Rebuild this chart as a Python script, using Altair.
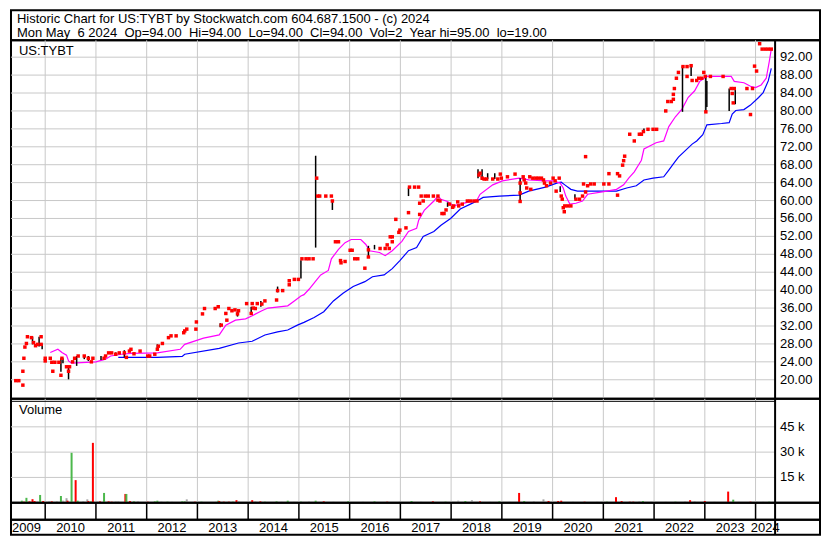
import altair as alt
import pandas as pd

FONT = "Liberation Sans"

# ---------------- data (decimal year, price) ----------------
close_year = [2009.42,2009.48,2009.56,2009.56,2009.58,2009.60,2009.63,2009.65,2009.73,2009.77,2009.81,2009.85,2009.92,2009.92,
 2010.00,2010.00,2010.10,2010.13,2010.15,2010.19,2010.27,2010.31,2010.33,2010.42,2010.48,2010.46,2010.54,2010.58,2010.65,2010.77,
 2010.85,2010.91,2010.94,2011.16,2011.19,2011.25,2011.31,2011.39,2011.46,2011.56,2011.60,2011.66,2011.69,2011.75,2011.87,
 2012.02,2012.06,2012.16,2012.21,2012.23,2012.31,2012.43,2012.48,2012.58,2012.73,2012.75,2012.79,2012.97,2012.98,
 2013.10,2013.14,2013.35,2013.41,2013.47,2013.56,2013.58,2013.62,2013.68,2013.74,2013.79,2013.81,2013.97,
 2014.06,2014.08,2014.10,2014.14,2014.18,2014.27,2014.33,2014.56,2014.58,2014.68,2014.81,2014.81,2014.91,2014.99,
 2015.06,2015.14,2015.20,2015.28,2015.35,2015.37,2015.41,2015.53,2015.64,2015.66,2015.72,2015.78,2015.82,2015.83,2015.91,
 2016.01,2016.05,2016.10,2016.16,2016.30,2016.37,2016.37,2016.60,2016.70,2016.74,2016.78,2016.80,2016.84,2016.84,2016.91,2016.97,2016.99,
 2017.11,2017.16,2017.18,2017.28,2017.36,2017.38,2017.38,2017.41,2017.45,2017.49,2017.55,2017.65,2017.74,2017.74,2017.78,2017.82,2017.86,2017.90,2017.97,
 2018.03,2018.05,2018.13,2018.15,2018.22,2018.32,2018.38,2018.45,2018.51,2018.55,2018.57,2018.61,2018.65,2018.70,2018.82,2018.92,2018.97,2018.99,
 2019.11,2019.26,2019.36,2019.36,2019.36,2019.42,2019.44,2019.47,2019.49,2019.55,2019.57,2019.61,2019.67,2019.72,2019.78,2019.82,2019.84,2019.88,2019.96,
 2020.01,2020.05,2020.07,2020.13,2020.17,2020.19,2020.21,2020.23,2020.24,2020.30,2020.36,2020.46,2020.53,2020.59,2020.61,2020.65,2020.65,2020.69,2020.75,2020.82,
 2021.01,2021.11,2021.11,2021.28,2021.28,2021.32,2021.38,2021.40,2021.42,2021.52,2021.61,2021.71,2021.75,2021.79,2021.88,2021.98,
 2022.05,2022.23,2022.27,2022.34,2022.38,2022.38,2022.40,2022.44,2022.48,2022.57,2022.65,2022.65,2022.73,2022.75,2022.84,2022.88,2022.94,2022.98,
 2023.01,2023.02,2023.11,2023.36,2023.52,2023.58,2023.54,2023.56,2023.83,2023.90,2023.94,2023.98,
 2024.02,2024.08,2024.13,2024.19,2024.25,2024.31]
close_price = [19.8,19.8,18.8,21.9,24.8,27.3,28.1,29.6,29.4,28.3,27.6,27.9,29.6,27.9,
 24.8,24.2,24.8,23.9,21.9,23.9,23.9,21.0,24.8,22.9,22.9,21.9,24.0,24.8,25.3,25.3,
 24.8,24.0,24.8,24.8,25.3,26.0,26.0,25.7,26.0,26.0,25.0,26.4,26.8,25.8,26.4,
 25.3,25.3,25.7,26.8,27.5,28.1,29.4,29.8,29.8,30.5,30.9,31.3,31.3,32.9,
 34.7,35.9,35.9,36.3,32.2,34.8,33.3,35.9,35.4,35.6,34.7,35.4,37.0,
 34.8,37.0,36.0,35.9,37.0,36.9,37.6,37.8,39.9,39.9,41.2,42.1,42.4,42.4,
 47.0,47.0,47.0,47.0,65.0,61.0,61.0,61.0,61.0,59.9,50.8,50.8,46.6,46.1,46.4,
 48.9,48.9,47.0,47.0,44.9,49.0,47.4,49.3,49.3,50.1,49.3,51.9,51.9,50.8,55.8,52.9,53.4,
 53.9,57.3,63.0,63.0,63.0,59.4,56.9,61.0,59.9,61.0,61.0,61.0,61.0,60.1,59.9,57.1,57.1,57.9,59.2,
 58.5,58.8,59.7,58.8,59.2,59.9,59.9,59.9,59.9,65.7,66.1,65.0,64.8,64.8,64.8,64.8,65.9,65.0,
 65.3,65.9,63.9,61.7,59.8,65.3,64.6,63.9,62.8,65.3,62.5,65.0,65.0,65.0,65.0,64.6,63.9,63.3,63.9,
 65.0,64.4,62.1,65.0,61.0,60.3,58.4,57.5,58.8,58.8,58.8,60.3,60.3,61.0,63.7,69.8,61.9,63.3,63.7,63.7,
 63.7,66.0,63.7,66.0,61.2,65.5,67.9,68.9,69.9,74.8,73.3,74.8,74.8,75.4,75.9,75.9,
 75.9,80.0,82.1,82.1,82.6,83.7,85.0,87.3,88.6,89.9,89.9,87.7,90.1,86.8,86.8,87.3,87.3,88.6,
 87.7,79.8,87.7,87.7,85.0,85.0,83.9,81.8,85.0,79.2,85.0,90.0,
 88.9,95.0,93.8,93.8,93.8,93.8]

# high-low bars
hl_year = [2009.75,2009.88,2009.94,2010.31,2010.35,2010.46,2010.62,2010.77,2010.85,2011.10,2011.39,2011.56,2012.21,
 2013.45,2013.79,2014.06,2014.25,2014.58,2015.04,2015.33,2015.66,2016.37,2016.49,2017.16,2017.93,
 2018.53,2018.61,2018.72,2018.86,2019.36,2020.15,2020.44,2021.80,2022.56,2022.73,2023.02,2023.04,2023.48,2023.60]
hl_high = [29.6,29.6,27.9,24.8,24.8,22.9,25.3,25.3,25.3,25.3,26.1,26.6,27.9,
 32.6,35.4,36.3,37.6,40.8,46.7,70.0,59.9,49.9,50.1,62.9,59.6,
 67.0,67.0,66.1,66.1,65.0,63.2,61.4,76.1,90.0,89.9,87.8,86.7,85.0,85.0]
hl_low = [27.9,27.4,26.8,21.8,23.7,20.1,23.1,24.6,24.2,24.4,25.3,25.0,26.6,
 31.7,34.1,34.6,36.3,39.5,42.6,49.5,57.9,47.3,49.1,61.0,58.6,
 65.0,64.6,64.8,64.8,59.6,61.9,60.3,75.2,79.8,87.8,79.8,80.9,80.0,81.5]

# fast moving average (magenta)
ma_fast_year = [2010.10,2010.25,2010.33,2010.42,2010.46,2010.52,2010.81,2011.00,2011.19,2011.29,2011.50,2011.69,2012.21,
 2012.66,2012.75,2013.12,2013.43,2013.56,2013.75,2013.95,2014.08,2014.27,2014.39,2014.78,2014.91,2015.04,2015.10,
 2015.20,2015.35,2015.43,2015.58,2015.64,2015.78,2015.91,2016.03,2016.22,2016.32,2016.39,2016.59,2016.70,2016.84,
 2017.03,2017.16,2017.32,2017.36,2017.47,2017.66,2017.74,2017.80,2017.93,2018.05,2018.18,2018.32,2018.51,2018.57,
 2018.82,2019.01,2019.34,2019.53,2019.86,2020.01,2020.15,2020.21,2020.26,2020.34,2020.46,2020.59,2020.69,2021.01,
 2021.26,2021.40,2021.50,2021.61,2021.75,2021.80,2022.04,2022.19,2022.29,2022.42,2022.55,2022.67,2022.80,2022.90,
 2023.04,2023.52,2023.58,2023.77,2023.90,2024.00,2024.11,2024.21,2024.27,2024.31]
ma_fast_price = [26.1,26.8,26.1,25.5,24.2,23.7,23.9,24.0,24.6,25.3,25.7,25.9,26.0,
 26.8,27.9,29.3,30.0,32.2,33.3,33.6,34.3,35.4,36.0,36.5,37.6,38.7,39.0,
 40.2,42.3,43.4,44.4,47.0,49.1,50.6,51.3,51.3,50.2,48.8,48.4,47.7,48.8,
 50.9,53.1,53.8,55.6,57.8,59.9,61.0,60.3,59.8,58.8,59.2,59.6,60.1,61.4,
 63.5,64.4,65.0,64.6,64.4,64.4,63.9,62.8,61.0,59.2,59.4,59.9,61.4,62.0,
 62.5,63.5,65.0,66.4,69.0,71.5,72.9,73.3,76.5,78.7,80.4,83.0,84.5,86.6,
 87.7,87.7,86.6,86.3,85.5,85.2,85.8,87.3,91.0,93.8]

# slow moving average (blue)
ma_slow_year = [2011.44,2011.79,2012.21,2012.70,2012.75,2013.43,2013.81,2014.08,2014.33,2014.58,2014.78,2014.97,2015.10,
 2015.30,2015.49,2015.68,2015.87,2016.07,2016.30,2016.45,2016.68,2016.84,2016.99,2017.16,2017.32,2017.45,2017.66,
 2017.80,2017.99,2018.18,2018.38,2018.51,2018.63,2018.95,2019.34,2019.53,2019.86,2020.11,2020.17,2020.24,2020.36,
 2020.49,2021.01,2021.26,2021.46,2021.65,2021.80,2021.98,2022.19,2022.29,2022.38,2022.48,2022.61,2022.75,2022.84,
 2022.96,2023.04,2023.33,2023.48,2023.54,2023.61,2023.77,2023.90,2024.06,2024.15,2024.25,2024.31]
ma_slow_price = [25.0,25.0,25.0,25.2,25.7,27.0,28.2,28.6,30.0,30.7,31.1,32.2,32.8,
 33.9,35.2,37.6,39.3,40.8,41.9,43.0,43.4,44.8,46.6,48.8,49.5,52.0,53.1,
 54.5,56.0,58.1,59.2,59.9,60.7,61.0,61.2,62.1,63.0,64.0,64.1,63.5,62.5,
 62.1,62.1,62.1,62.8,63.3,64.6,65.0,65.3,66.8,68.2,69.7,71.1,72.6,73.3,
 74.7,76.9,77.2,77.4,79.3,80.1,80.3,81.3,83.0,84.1,86.7,89.5]

# volume (thousands of shares) and bar colour class
vol_year = [2009.38,2009.42,2009.46,2009.54,2009.58,2009.63,2009.69,2009.75,2009.79,2009.85,2009.90,2009.96,
 2010.08,2010.13,2010.23,2010.31,2010.35,2010.42,2010.44,2010.52,2010.60,2010.64,2010.75,2010.83,2010.85,2010.90,2010.94,
 2011.02,2011.08,2011.16,2011.25,2011.31,2011.39,2011.44,2011.58,2011.60,2011.67,2011.75,2011.83,
 2012.02,2012.16,2012.21,2012.29,2012.41,2012.50,2012.70,2012.75,2012.79,2012.95,
 2013.08,2013.37,2013.41,2013.43,2013.52,2013.62,2013.70,2013.77,2013.81,
 2014.00,2014.08,2014.14,2014.24,2014.33,2014.56,2014.66,2014.78,2014.91,
 2015.04,2015.20,2015.33,2015.49,2015.68,2015.97,2016.26,2016.49,2016.74,2016.99,
 2017.22,2017.41,2017.64,2017.89,2018.14,2018.28,2018.41,2018.57,2018.76,2018.95,
 2019.15,2019.34,2019.44,2019.63,2019.82,2019.92,2020.11,2020.17,2020.40,2020.63,2020.88,
 2021.07,2021.25,2021.36,2021.52,2021.59,2021.71,2021.78,2021.94,2022.23,2022.42,2022.61,2022.71,2022.80,
 2023.00,2023.19,2023.46,2023.56,2023.67,2023.90,2024.02,2024.15,2024.27]
vol_k = [0.6,0.6,0.6,1.2,0.6,2.9,0.8,2.1,1.0,0.8,4.6,1.0,
 1.0,0.8,1.0,4.0,1.2,2.7,1.2,29.6,13.4,1.2,1.0,2.0,1.0,0.8,35.5,
 0.6,0.8,5.8,0.8,0.6,1.0,1.0,5.2,5.2,1.0,0.8,1.0,
 0.6,0.8,1.2,0.8,0.6,0.6,0.8,0.8,2.0,0.6,
 0.6,0.6,1.2,1.0,0.6,0.6,0.6,1.5,1.0,
 0.6,1.5,1.0,0.8,0.6,0.8,0.6,1.2,0.6,
 0.6,0.8,1.2,0.8,0.6,0.8,0.6,0.8,0.6,0.8,
 1.0,0.6,0.8,0.6,1.2,1.0,1.5,0.8,0.6,0.8,
 0.6,5.8,1.0,1.0,2.0,1.0,1.0,1.2,0.6,0.6,0.6,
 0.6,3.3,1.0,0.6,0.6,1.0,1.0,0.6,0.6,0.6,0.8,1.5,1.0,
 1.0,0.6,6.6,1.8,0.6,0.6,0.6,0.6,0.6]
vol_kind = ["gray","gray","gray","green","red","green","red","red","red","gray","green","red",
 "gray","red","gray","green","gray","gray","red","green","red","green","gray","gray","red","green","red",
 "gray","red","green","red","red","gray","gray","red","green","red","green","gray",
 "red","green","green","gray","green","gray","green","green","gray","red",
 "green","gray","green","red","red","red","green","red","gray",
 "gray","red","gray","red","green","green","gray","green","gray",
 "green","gray","green","red","gray","green","gray","green","red","gray",
 "green","gray","red","green","gray","green","gray","red","gray","green",
 "gray","red","green","gray","gray","red","red","red","gray","red","gray",
 "green","red","red","red","red","gray","green","gray","gray","green","gray","red","gray",
 "red","gray","red","green","gray","red","gray","gray","green"]

price_ticks = [20, 24, 28, 32, 36, 40, 44, 48, 52, 56, 60, 64, 68, 72, 76, 80, 84, 88, 92]
vol_ticks = [15, 30, 45]
vol_tick_text = ["15 k", "30 k", "45 k"]
year_lines = list(range(2010, 2025))
year_label_pos = [2009.63] + [y + 0.5 for y in range(2010, 2024)] + [2024.19]
year_label_text = [str(y) for y in range(2009, 2025)]

NB2 = "\u00a0\u00a0"
title_1 = "Historic Chart for US:TYBT by Stockwatch.com 604.687.1500 - (c) 2024"
title_2 = ("Mon May" + NB2 + "6 2024" + NB2 + "Op=94.00" + NB2 + "Hi=94.00" + NB2 + "Lo=94.00" + NB2
           + "Cl=94.00" + NB2 + "Vol=2" + NB2 + "Year hi=95.00" + NB2 + "lo=19.00")

# ---------------- layout ----------------
X0, X1 = 2009.326, 2025.27      # whole box including label column
XDIV = 2024.385                 # right edge of plotting area
XLAB = 2024.48                  # axis label anchor
W = 810
H_TITLE, H_PRICE, H_VOL, H_STRIP, H_LAB = 30, 359, 104, 17, 15
GRID = "#c8c8c8"

xs = alt.Scale(domain=[X0, X1], nice=False, zero=False)
ys = alt.Scale(domain=[15.74, 95.77], nice=False, zero=False)
vs = alt.Scale(domain=[0, 61.6], nice=False, zero=False)


def X(field):
    return alt.X(field, type="quantitative", scale=xs, axis=None)


def Yp(field):
    return alt.Y(field, type="quantitative", scale=ys, axis=None)


def Yv(field):
    return alt.Y(field, type="quantitative", scale=vs, axis=None)


def txt(**kw):
    return dict(font=FONT, fontSize=13, color="black", baseline="middle", **kw)


# title panel
title_panel = alt.layer(
    alt.Chart(pd.DataFrame({"s": [title_1], "x": [X0]})).mark_text(**txt(align="left", dx=6)).encode(
        x=X("x"), y=alt.value(9), text="s:N"),
    alt.Chart(pd.DataFrame({"s": [title_2], "x": [X0]})).mark_text(**txt(align="left", dx=6)).encode(
        x=X("x"), y=alt.value(23), text="s:N"),
).properties(width=W, height=H_TITLE)

# price panel
pgrid = pd.DataFrame({"p": price_ticks, "x0": X0, "x1": XDIV, "xl": XLAB})
ygrid_df = pd.DataFrame({"yr": year_lines})
div_df = pd.DataFrame({"x": [XDIV]})
close_df = pd.DataFrame({"t": close_year, "p": close_price})
hl_df = pd.DataFrame({"t": hl_year, "hi": hl_high, "lo": hl_low})
fast_df = pd.DataFrame({"t": ma_fast_year, "p": ma_fast_price})
slow_df = pd.DataFrame({"t": ma_slow_year, "p": ma_slow_price})

price_panel = alt.layer(
    alt.Chart(pgrid).mark_rule(color=GRID, strokeWidth=1).encode(x=X("x0"), x2="x1", y=Yp("p")),
    alt.Chart(ygrid_df).mark_rule(color=GRID, strokeWidth=1).encode(x=X("yr")),
    alt.Chart(pgrid).mark_text(**txt(align="left")).encode(
        x=X("xl"), y=Yp("p"), text=alt.Text("p:Q", format=".2f")),
    alt.Chart(slow_df).mark_line(color="#0000ff", strokeWidth=1.2).encode(x=X("t"), y=Yp("p")),
    alt.Chart(fast_df).mark_line(color="#ff00ff", strokeWidth=1.2).encode(x=X("t"), y=Yp("p")),
    alt.Chart(hl_df).mark_rule(color="black", strokeWidth=1.5).encode(x=X("t"), y=Yp("hi"), y2="lo"),
    alt.Chart(close_df).mark_square(color="#ff0000", size=12, opacity=1).encode(x=X("t"), y=Yp("p")),
    alt.Chart(div_df).mark_rule(color="black", strokeWidth=2).encode(x=X("x")),
    alt.Chart(pd.DataFrame({"s": ["US:TYBT"], "x": [X0]})).mark_text(**txt(align="left", dx=8)).encode(
        x=X("x"), y=alt.value(11), text="s:N"),
).properties(width=W, height=H_PRICE)

# volume panel
vgrid = pd.DataFrame({"v": vol_ticks, "lab": vol_tick_text, "x0": X0, "x1": XDIV, "xl": XLAB})
vol_df = pd.DataFrame({"t": vol_year, "v": vol_k, "kind": vol_kind, "z": 0.0})

vol_panel = alt.layer(
    alt.Chart(vgrid).mark_rule(color=GRID, strokeWidth=1).encode(x=X("x0"), x2="x1", y=Yv("v")),
    alt.Chart(ygrid_df).mark_rule(color=GRID, strokeWidth=1).encode(x=X("yr")),
    alt.Chart(vgrid).mark_text(**txt(align="left")).encode(x=X("xl"), y=Yv("v"), text="lab:N"),
    alt.Chart(vol_df).mark_rule(strokeWidth=2).encode(
        x=X("t"), y=Yv("z"), y2="v",
        color=alt.Color("kind:N", legend=None,
                        scale=alt.Scale(domain=["red", "green", "gray"],
                                        range=["#ff0000", "#4cb84c", "#a8a8a8"]))),
    alt.Chart(div_df).mark_rule(color="black", strokeWidth=2).encode(x=X("x")),
    alt.Chart(pd.DataFrame({"x0": [X0], "x1": [XDIV]})).mark_rule(color="black", strokeWidth=1).encode(
        x=X("x0"), x2="x1", y=alt.value(2.5)),
    alt.Chart(pd.DataFrame({"s": ["Volume"], "x": [X0]})).mark_text(**txt(align="left", dx=8)).encode(
        x=X("x"), y=alt.value(11), text="s:N"),
).properties(width=W, height=H_VOL)

# strip with year boundaries
strip_panel = alt.layer(
    alt.Chart(ygrid_df).mark_rule(color="black", strokeWidth=1.5).encode(x=X("yr")),
    alt.Chart(div_df).mark_rule(color="black", strokeWidth=2).encode(x=X("x")),
).properties(width=W, height=H_STRIP)

# year labels
lab_df = pd.DataFrame({"t": year_label_pos, "s": year_label_text})
label_panel = alt.layer(
    alt.Chart(lab_df).mark_text(**txt(align="center")).encode(x=X("t"), y=alt.value(8), text="s:N"),
    alt.Chart(div_df).mark_rule(color="black", strokeWidth=2).encode(x=X("x")),
).properties(width=W, height=H_LAB)

chart = alt.vconcat(
    title_panel, price_panel, vol_panel, strip_panel, label_panel, spacing=0, bounds="flush"
).properties(
    padding={"left": 1, "top": 1, "right": 1, "bottom": 1}
).configure_view(
    stroke="black", strokeWidth=2
)

chart.save("out.html", embed_options={"renderer": "svg", "actions": False})
